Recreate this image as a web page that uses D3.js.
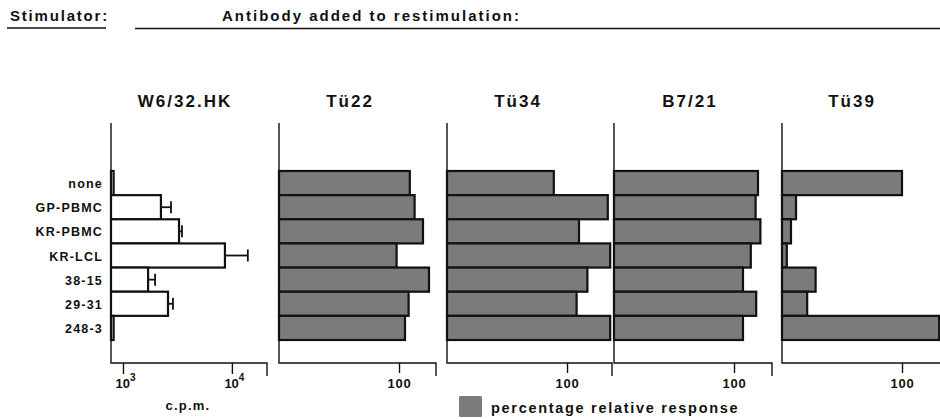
<!DOCTYPE html>
<html>
<head>
<meta charset="utf-8">
<script src="https://cdn.jsdelivr.net/npm/d3@7"></script>
<style>
  body { margin: 0; background: #fff; }
  svg { display: block; }
  text { font-family: "Liberation Sans", Arial, sans-serif; font-weight: bold; fill: #111; }
</style>
</head>
<body>
<svg id="chart" width="940" height="419"></svg>
<script>
// stimulators (rows)
const stimulators = ["none", "GP-PBMC", "KR-PBMC", "KR-LCL", "38-15", "29-31", "248-3"];
// W6/32.HK panel, c.p.m. and top of error bar
const cpm = [820, 2230, 3270, 8630, 1700, 2590, 820];
const cpmErr = [null, 2760, 3480, 14000, 1970, 2875, null];
const cpmTicks = [1000, 10000];
// percentage relative response per antibody
const antibodies = ["Tü22", "Tü34", "B7/21", "Tü39"];
const tu22 = [109, 113, 120, 98, 125, 108, 105];
const tu34 = [89, 134, 110, 136, 117, 108, 136];
const b721 = [120, 118, 122, 114, 107.5, 118.5, 107.5];
const tu39 = [100, 11.7, 7.5, 4, 28, 21, 131];
const pctTicks = [100];

const svg = d3.select("#chart");
const axisTop = 123, axisY = 363;
const lineColor = "#111";
const barGray = "#7b7b7b";

// header
svg.append("text").attr("x", 10).attr("y", 21).attr("font-size", 15)
  .attr("letter-spacing", 1.8).text("Stimulator:");
svg.append("line").attr("x1", 7).attr("x2", 106).attr("y1", 28).attr("y2", 28)
  .attr("stroke", lineColor).attr("stroke-width", 1.6);
svg.append("text").attr("x", 222).attr("y", 21).attr("font-size", 15)
  .attr("letter-spacing", 2).text("Antibody added to restimulation:");
svg.append("line").attr("x1", 135).attr("x2", 940).attr("y1", 28.5).attr("y2", 28.5)
  .attr("stroke", lineColor).attr("stroke-width", 1.6);

const y = d3.scaleBand().domain(stimulators).range([171, 340]).paddingInner(0);

// row labels
svg.append("g").selectAll("text").data(stimulators).join("text")
  .attr("x", 103).attr("y", d => y(d) + y.bandwidth() / 2 + 5)
  .attr("text-anchor", "end").attr("font-size", 12.5).attr("letter-spacing", 1.2)
  .text(d => d);

function axisFrame(g, x0, x1) {
  g.append("path")
    .attr("d", `M${x0},${axisTop}V${axisY}H${x1}V${axisY + 13}`)
    .attr("fill", "none").attr("stroke", lineColor).attr("stroke-width", 1.4);
}

function title(g, cx, label) {
  g.append("text").attr("x", cx).attr("y", 107).attr("text-anchor", "middle")
    .attr("font-size", 17).attr("letter-spacing", 2).text(label);
}

// panel 1: log c.p.m.
{
  const g = svg.append("g");
  const x = d3.scaleLog().domain([776, 21000]).range([111, 267]);
  title(g, 185, "W6/32.HK");
  g.selectAll("rect").data(cpm).join("rect")
    .attr("x", x.range()[0]).attr("y", (d, i) => y(stimulators[i]))
    .attr("width", d => x(d) - x.range()[0]).attr("height", y.bandwidth())
    .attr("fill", "#fff").attr("stroke", lineColor).attr("stroke-width", 2.2);
  const err = g.selectAll(".err").data(cpmErr.map((e, i) => ({ e, v: cpm[i], i })).filter(d => d.e))
    .join("g").attr("class", "err");
  err.append("line")
    .attr("x1", d => x(d.v)).attr("x2", d => x(d.e))
    .attr("y1", d => y(stimulators[d.i]) + y.bandwidth() / 2)
    .attr("y2", d => y(stimulators[d.i]) + y.bandwidth() / 2)
    .attr("stroke", lineColor).attr("stroke-width", 1.8);
  err.append("line")
    .attr("x1", d => x(d.e)).attr("x2", d => x(d.e))
    .attr("y1", d => y(stimulators[d.i]) + y.bandwidth() / 2 - 6)
    .attr("y2", d => y(stimulators[d.i]) + y.bandwidth() / 2 + 6)
    .attr("stroke", lineColor).attr("stroke-width", 1.8);
  axisFrame(g, x.range()[0], x.range()[1]);
  const ax = g.append("g").attr("transform", `translate(0,${axisY})`)
    .call(d3.axisBottom(x).tickValues(cpmTicks).tickSize(11).tickFormat(() => ""));
  ax.select(".domain").remove();
  ax.selectAll(".tick line").attr("stroke", lineColor).attr("stroke-width", 1.4);
  ax.selectAll(".tick").each(function (d) {
    const t = d3.select(this).append("text").attr("x", 2).attr("y", 25).attr("font-size", 13)
      .attr("text-anchor", "middle").attr("fill", "#111");
    t.append("tspan").text("10");
    t.append("tspan").attr("dy", -7).attr("font-size", 10).text(Math.round(Math.log10(d)));
  });
  g.append("text").attr("x", 188).attr("y", 410).attr("text-anchor", "middle")
    .attr("font-size", 13).attr("letter-spacing", 1.2).text("c.p.m.");
}

// panels 2-5: percentage relative response
const pctSeries = [tu22, tu34, b721, tu39];
const panels = [
  { x0: 279, x100: 399, x1: 436, cx: 350 },
  { x0: 447, x100: 567, x1: 612, cx: 518 },
  { x0: 614, x100: 734, x1: 772, cx: 690 },
  { x0: 782, x100: 902, x1: 960, cx: 852 }
];

pctSeries.forEach((vals, k) => {
  const p = panels[k];
  const g = svg.append("g");
  const x = d3.scaleLinear().domain([0, 100]).range([p.x0, p.x100]);
  title(g, p.cx, antibodies[k]);
  g.selectAll("rect").data(vals).join("rect")
    .attr("x", x(0)).attr("y", (d, i) => y(stimulators[i]))
    .attr("width", d => x(d) - x(0)).attr("height", y.bandwidth())
    .attr("fill", barGray).attr("stroke", lineColor).attr("stroke-width", 2.2);
  axisFrame(g, p.x0, p.x1);
  const ax = g.append("g").attr("transform", `translate(0,${axisY})`)
    .call(d3.axisBottom(x).tickValues(pctTicks).tickSize(10));
  ax.select(".domain").remove();
  ax.selectAll(".tick line").attr("stroke", lineColor).attr("stroke-width", 1.4);
  ax.selectAll(".tick text").attr("y", 16).attr("font-size", 13)
    .attr("font-family", "Liberation Sans, Arial, sans-serif").attr("font-weight", "bold")
    .attr("letter-spacing", 0.8).attr("fill", "#111");
});

// legend
svg.append("rect").attr("x", 459).attr("y", 396).attr("width", 23).attr("height", 21)
  .attr("fill", barGray).attr("rx", 1.5);
svg.append("text").attr("x", 491).attr("y", 413).attr("font-size", 14.5)
  .attr("letter-spacing", 1.7).text("percentage relative response");
</script>
</body>
</html>
